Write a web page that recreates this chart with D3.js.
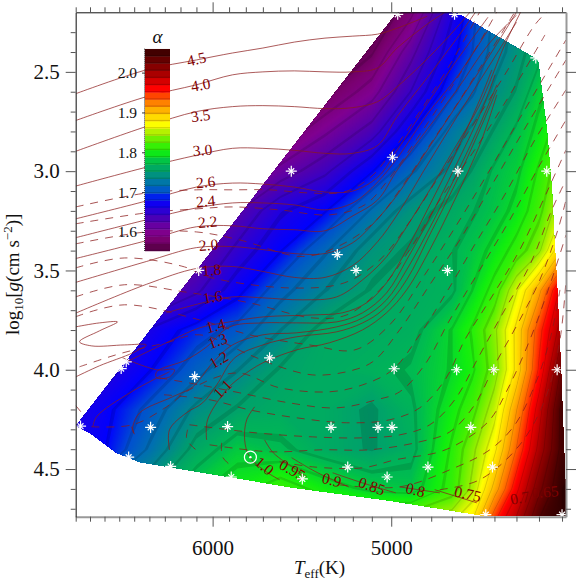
<!DOCTYPE html>
<html>
<head>
<meta charset="utf-8">
<script src="https://cdn.jsdelivr.net/npm/d3@7/dist/d3.min.js"></script>
<style>
  html, body { margin: 0; padding: 0; background: #fff; }
  text { font-family: "Liberation Serif", serif; fill: #111; }
</style>
</head>
<body>
<div id="chart"></div>
<script>
// Mixing length field
const fieldTeff = [7000, 6700, 6400, 6100, 5850, 5600, 5350, 5100, 4900, 4700, 4600, 4500, 4400, 4300, 4200, 4100];
const fieldLogg = [2.2, 2.4, 2.6, 2.8, 3.0, 3.2, 3.4, 3.6, 3.8, 4.0, 4.2, 4.4, 4.6, 4.8];
const fieldAlpha = [
  [1.55, 1.55, 1.55, 1.55, 1.55, 1.55, 1.55, 1.55, 1.585, 1.66, 1.695, 1.72, 1.74, 1.76, 1.78, 1.79],
  [1.55, 1.55, 1.55, 1.55, 1.55, 1.55, 1.55, 1.57, 1.62, 1.675, 1.70, 1.725, 1.745, 1.765, 1.78, 1.79],
  [1.56, 1.56, 1.56, 1.56, 1.56, 1.56, 1.57, 1.60, 1.645, 1.695, 1.715, 1.74, 1.755, 1.785, 1.80, 1.81],
  [1.56, 1.56, 1.56, 1.56, 1.56, 1.575, 1.605, 1.635, 1.68, 1.725, 1.74, 1.755, 1.775, 1.795, 1.82, 1.83],
  [1.57, 1.57, 1.57, 1.56, 1.59, 1.615, 1.64, 1.68, 1.715, 1.74, 1.755, 1.775, 1.785, 1.81, 1.84, 1.85],
  [1.57, 1.57, 1.57, 1.58, 1.625, 1.66, 1.68, 1.72, 1.745, 1.76, 1.77, 1.78, 1.795, 1.82, 1.86, 1.88],
  [1.58, 1.58, 1.585, 1.615, 1.65, 1.68, 1.715, 1.745, 1.755, 1.77, 1.78, 1.795, 1.815, 1.84, 1.90, 1.92],
  [1.59, 1.60, 1.61, 1.64, 1.675, 1.71, 1.735, 1.755, 1.762, 1.768, 1.79, 1.815, 1.86, 1.91, 1.98, 2.0],
  [1.63, 1.64, 1.665, 1.69, 1.705, 1.735, 1.76, 1.762, 1.765, 1.79, 1.81, 1.84, 1.885, 1.945, 2.0, 2.05],
  [1.64, 1.655, 1.68, 1.71, 1.735, 1.755, 1.762, 1.766, 1.774, 1.79, 1.805, 1.835, 1.885, 1.955, 2.03, 2.06],
  [1.655, 1.675, 1.705, 1.74, 1.755, 1.762, 1.762, 1.752, 1.768, 1.80, 1.82, 1.855, 1.915, 1.98, 2.05, 2.06],
  [1.66, 1.68, 1.72, 1.76, 1.782, 1.775, 1.762, 1.753, 1.765, 1.81, 1.84, 1.875, 1.935, 1.995, 2.05, 2.06],
  [1.69, 1.72, 1.75, 1.785, 1.80, 1.82, 1.80, 1.785, 1.78, 1.815, 1.85, 1.905, 1.965, 2.02, 2.06, 2.06],
  [1.72, 1.75, 1.78, 1.81, 1.83, 1.84, 1.84, 1.85, 1.86, 1.87, 1.89, 1.96, 2.00, 2.05, 2.06, 2.06]
];

// Outline of the coloured region
const hullTeff = [6897, 4967, 4686, 4305, 4266, 4244, 4235, 4222, 4205, 4187, 4183, 4540, 5008, 5547, 6464, 6618, 6800];
const hullLogg = [4.282, 2.198, 2.198, 2.44, 2.792, 3.094, 3.311, 3.572, 4.0, 4.554, 4.736, 4.736, 4.658, 4.59, 4.464, 4.418, 4.318];

// Simulation grid (white stars)
const starTeff = [6086, 4967, 4687, 4314, 4994, 4671, 4266, 5537, 5283, 5183, 4721, 6866, 6553, 6587, 6111, 5661, 6392, 5909, 6537, 6263, 5887, 4985, 4677, 4503, 4221, 5317, 5068, 4996, 4610, 5227, 4816, 4509, 5021, 5475, 4540, 4200];
const starLogg = [3.5, 2.21, 2.21, 2.43, 2.93, 3.0, 3.0, 3.0, 3.42, 3.5, 3.5, 4.284, 3.96, 3.994, 4.035, 3.94, 4.29, 4.286, 4.44, 4.487, 4.54, 3.995, 4.0, 4.0, 4.0, 4.29, 4.29, 4.29, 4.29, 4.49, 4.49, 4.49, 4.54, 4.55, 4.73, 4.73];
const sunTeff = 5773;
const sunLogg = 4.44;

// Solid tracks of the upper masses share these temperatures
const trackTeff = [6900, 6420, 6100, 5880, 5700, 5520, 5350, 5200, 5070, 4970, 4820, 4675, 4530, 4400];
const track45 = [2.61, 2.49, 2.44, 2.405, 2.38, 2.35, 2.33, 2.32, 2.31, 2.28, 2.22];
const track40 = [2.745, 2.625, 2.565, 2.515, 2.5, 2.495, 2.5, 2.5, 2.48, 2.38, 2.26, 2.16];
const track35 = [2.9, 2.775, 2.7, 2.675, 2.67, 2.675, 2.685, 2.68, 2.65, 2.575, 2.435, 2.275, 2.09];
const track30 = [3.075, 2.98, 2.92, 2.885, 2.885, 2.895, 2.91, 2.91, 2.87, 2.725, 2.53, 2.33, 2.11];
const track26 = [3.24, 3.15, 3.08, 3.06, 3.065, 3.08, 3.105, 3.10, 3.03, 2.895, 2.66, 2.44, 2.225];
const track24 = [3.335, 3.245, 3.185, 3.16, 3.16, 3.17, 3.195, 3.16, 3.055, 2.935, 2.715, 2.525, 2.29];
const track22 = [3.44, 3.35, 3.28, 3.275, 3.29, 3.295, 3.30, 3.225, 3.145, 2.995, 2.79, 2.59, 2.365, 2.215];
const track20 = [3.56, 3.455, 3.385, 3.38, 3.395, 3.415, 3.415, 3.36, 3.24, 3.12, 2.895, 2.665, 2.43, 2.2];
const track18 = [3.715, 3.57, 3.49, 3.48, 3.505, 3.535, 3.535, 3.475, 3.355, 3.22, 2.97, 2.725, 2.48, 2.25];
const columnTracks = [track45, track40, track35, track30, track26, track24, track22, track20, track18];

// Remaining solid tracks, [Teff list, logg list]
const freeTracks = [
  [[6290, 6062, 5880, 5700, 5474, 5286, 5148, 5024, 4922, 4807, 4686, 4568, 4453, 4381],
   [3.713, 3.663, 3.633, 3.638, 3.648, 3.633, 3.547, 3.431, 3.28, 3.094, 2.883, 2.666, 2.364, 2.198]],
  [[6900, 6734, 6612, 6734, 6873, 6788, 6565, 6420, 6510, 6734, 6900],
   [3.784, 3.764, 3.759, 3.804, 3.859, 3.88, 3.875, 3.875, 3.915, 3.98, 4.036]],
  [[6550, 6289, 6080, 5897, 5700, 5418, 5254, 5127, 5024, 4922, 4807, 4686, 4568, 4512],
   [3.96, 3.864, 3.789, 3.759, 3.734, 3.724, 3.713, 3.663, 3.562, 3.396, 3.17, 2.918, 2.641, 2.49]],
  [[6577, 6353, 6238, 6270, 6353, 6353, 6163, 6037, 5897, 5700, 5507, 5286, 5148, 5024, 4922, 4807, 4686, 4568, 4497],
   [3.94, 4.0, 4.0, 4.036, 4.04, 4.01, 3.95, 3.885, 3.784, 3.764, 3.764, 3.759, 3.713, 3.613, 3.447, 3.235, 2.983, 2.717, 2.515]],
  [[6780, 6755, 6518, 6270],
   [4.287, 4.237, 4.111, 4.01]],
  [[6505, 6510, 6464, 6250, 6123, 6000, 5880, 5700, 5507, 5286, 5148, 5024, 4922, 4807, 4686, 4568, 4489],
   [4.318, 4.287, 4.217, 4.136, 4.086, 3.965, 3.875, 3.824, 3.814, 3.784, 3.739, 3.648, 3.497, 3.285, 3.034, 2.767, 2.565]],
  [[6270, 6270, 6163, 6062, 5975, 5866, 5700, 5507, 5286, 5148, 5043, 4922, 4807, 4686, 4568, 4489],
   [4.403, 4.302, 4.217, 4.167, 4.076, 3.94, 3.875, 3.834, 3.809, 3.764, 3.698, 3.547, 3.32, 3.069, 2.792, 2.59]],
  [[6037, 6031, 5915, 5837, 5700, 5507, 5325, 5148, 5024, 4922, 4807, 4686, 4568, 4489],
   [4.353, 4.252, 4.101, 4.041, 3.965, 3.9, 3.864, 3.799, 3.713, 3.598, 3.396, 3.144, 2.868, 2.616]],
  [[5748, 5795, 5807, 5778, 5680, 5603], [4.187, 4.252, 4.353, 4.438, 4.514, 4.554]],
  [[5690, 5640, 5507, 5450], [4.353, 4.418, 4.504, 4.539]],
  [[5535, 5400, 5221], [4.443, 4.514, 4.59]],
  [[5308, 5148, 4977], [4.519, 4.57, 4.62]],
  [[4957, 4758], [4.59, 4.62]],
  [[4783, 4582], [4.604, 4.67]]
];

// Dashed tracks, [Teff list, logg list]
const dashedTracks = [
  [[6900, 6420, 6100, 5880, 5660, 5434, 5244, 5111, 5008, 4857, 4710, 4568],
   [3.18, 3.11, 3.094, 3.094, 3.094, 3.11, 3.104, 3.034, 2.918, 2.701, 2.465, 2.198]],
  [[6900, 6420, 6100, 5880, 5603, 5325, 5138, 5008, 4857, 4710, 4568, 4489],
   [3.265, 3.21, 3.19, 3.18, 3.195, 3.22, 3.17, 3.034, 2.817, 2.59, 2.349, 2.198]],
  [[6900, 6420, 6100, 5837, 5474, 5270, 5085, 4957, 4807, 4662, 4521, 4407],
   [3.366, 3.306, 3.306, 3.346, 3.43, 3.375, 3.255, 3.094, 2.868, 2.641, 2.4, 2.198]],
  [[6900, 6565, 6175, 6030, 5547, 5244, 5059, 4907, 4758, 4615, 4453, 4318, 4266],
   [3.487, 3.437, 3.482, 3.532, 3.588, 3.562, 3.447, 3.255, 3.019, 2.792, 2.515, 2.263, 2.198]],
  [[6900, 6565, 6175, 5778, 5418, 5233, 5059, 4907, 4758, 4592, 4430, 4274],
   [3.633, 3.572, 3.608, 3.663, 3.739, 3.724, 3.598, 3.396, 3.144, 2.893, 2.616, 2.314]],
  [[6900, 6565, 6080, 5778, 5434, 5190, 5008, 4832, 4662, 4521, 4363, 4183],
   [3.733, 3.673, 3.749, 3.824, 3.875, 3.9, 3.774, 3.522, 3.245, 2.993, 2.691, 2.339]],
  [[6873, 6577, 6289, 6080, 5778, 5603, 5418, 5233, 5096, 4957, 4807, 4662, 4498, 4340, 4183],
   [3.985, 3.915, 3.864, 3.824, 3.925, 3.985, 4.026, 4.01, 3.96, 3.799, 3.572, 3.346, 3.044, 2.742, 2.44]],
  [[6790, 6510, 6289, 6143, 5855, 5603, 5325, 5148, 4993, 4857, 4733, 4592, 4453, 4318, 4183],
   [4.287, 4.277, 4.187, 4.101, 4.016, 4.091, 4.111, 4.076, 4.0, 3.824, 3.623, 3.371, 3.119, 2.842, 2.59]],
  [[6334, 6080, 5837, 5547, 5286, 5075, 4957, 4832, 4710, 4568, 4430, 4296, 4183],
   [4.041, 4.076, 4.116, 4.167, 4.192, 4.151, 4.111, 3.975, 3.749, 3.497, 3.245, 2.968, 2.742]],
  [[6305, 6018, 5778, 5507, 5233, 5008, 4857, 4733, 4638, 4521, 4385, 4261, 4183],
   [4.126, 4.151, 4.202, 4.242, 4.267, 4.252, 4.192, 4.051, 3.849, 3.648, 3.396, 3.094, 2.893]],
  [[6143, 5737, 5418, 5148, 4957, 4807, 4686, 4568, 4453, 4340, 4244, 4183],
   [4.277, 4.318, 4.338, 4.343, 4.328, 4.277, 4.151, 3.925, 3.698, 3.472, 3.195, 3.044]],
  [[6018, 5660, 5362, 5111, 4857, 4710, 4592, 4498, 4385, 4296, 4218, 4183],
   [4.378, 4.413, 4.403, 4.403, 4.363, 4.313, 4.177, 3.975, 3.749, 3.547, 3.296, 3.145]],
  [[5603, 5418, 5148, 4977, 4758, 4638, 4521, 4430, 4340, 4252, 4183],
   [4.463, 4.489, 4.494, 4.453, 4.413, 4.353, 4.252, 4.076, 3.849, 3.572, 3.321]],
  [[5270, 4957, 4710, 4521, 4407, 4318, 4252, 4209],
   [4.58, 4.59, 4.504, 4.403, 4.277, 4.076, 3.849, 3.598]],
  [[4758, 4568, 4385, 4274, 4209, 4183],
   [4.604, 4.554, 4.378, 4.151, 3.849, 3.547]],
  [[6155, 6160, 6080], [4.302, 4.353, 4.418]],
  [[5945, 5940, 5880], [4.368, 4.438, 4.489]],
  [[6518, 6484], [4.287, 4.353]],
  [[6900, 6860], [4.18, 4.215]]
];

// Mass labels on the tracks
const massNames = ["4.5", "4.0", "3.5", "3.0", "2.6", "2.4", "2.2", "2.0", "1.8", "1.6", "1.4", "1.3", "1.2", "1.1", "1.0", "0.95", "0.9", "0.85", "0.8", "0.75", "0.7", "0.65"];
const massTeff = [6100, 6074, 6074, 6062, 6043, 6043, 6031, 6025, 6006, 6000, 5982, 5970, 5963, 5939, 5690, 5530, 5313, 5100, 4877, 4624, 4385, 4274];
const massLogg = [2.435, 2.565, 2.72, 2.893, 3.054, 3.15, 3.255, 3.371, 3.497, 3.633, 3.779, 3.854, 3.95, 4.096, 4.484, 4.504, 4.554, 4.585, 4.604, 4.625, 4.645, 4.615];
const massAngle = [-13, -10, -8, -5, -5, -5, -5, -5, -5, -10, -15, -20, -30, -45, 40, 30, 15, 20, 15, 12, -10, -5];

const colorbarTicks = [1.6, 1.7, 1.8, 1.9, 2.0];

const stopAlpha = [1.5525, 1.58, 1.60, 1.63, 1.66, 1.68, 1.70, 1.72, 1.75, 1.775, 1.80, 1.825, 1.85, 1.87, 1.90, 1.93, 1.96, 2.0, 2.06];
const stopColor = ["#50003c", "#7a0070", "#800090", "#5000b0", "#2000e0", "#0000ff", "#0050d0", "#0070b0", "#009c70", "#00bc50", "#10ee10", "#50f000", "#b0f000", "#ffff00", "#ffc000", "#ff7000", "#ff0000", "#a00000", "#300000"];

// Scales
const margin = {top: 12.3, right: 15, bottom: 64.3, left: 75.7},
      width = 581 - margin.left - margin.right,
      height = 581 - margin.top - margin.bottom;

const x = d3.scaleLog().domain([6900, 4183]).range([0, width]);
const y = d3.scaleLinear().domain([2.2, 4.74]).range([0, height]);

const alphaColor = d3.scaleLinear().domain(stopAlpha).range(stopColor).clamp(true);

// dark stripe sits at the bottom of every colour step
const step = 0.0181;
const stripe = 0.0027;
function fieldColor(a) {
  const k = (a - 1.5525) / step;
  const frac = k - Math.floor(k);
  const c = d3.rgb(alphaColor(a));
  return frac * step < stripe ? c.darker(0.36).formatRgb() : c.formatRgb();
}

const svg = d3.select("#chart")
  .append("svg")
  .attr("width", 581)
  .attr("height", 581)
  .style("display", "block");

const defs = svg.append("defs");
defs.append("clipPath").attr("id", "hull").append("polygon")
  .attr("points", hullTeff.map((t, i) => [x(t), y(hullLogg[i])].join(",")).join(" "));
defs.append("clipPath").attr("id", "frame").append("rect")
  .attr("width", width).attr("height", height);

const plot = svg.append("g")
  .attr("transform", `translate(${margin.left},${margin.top})`);

// Colour field
const colToTeff = d3.scaleLinear().domain(d3.range(fieldTeff.length)).range(fieldTeff);
const rowToLogg = d3.scaleLinear().domain(d3.range(fieldLogg.length)).range(fieldLogg);
const thresholds = d3.range(1.5, 2.07, 0.0009);

const contours = d3.contours()
  .size([fieldTeff.length, fieldLogg.length])
  .thresholds(thresholds)(fieldAlpha.flat());

const fieldPath = d3.geoPath(d3.geoTransform({
  point(cx, cy) {
    const t = colToTeff(Math.max(0, Math.min(fieldTeff.length - 1, cx - 0.5)));
    const g = rowToLogg(Math.max(0, Math.min(fieldLogg.length - 1, cy - 0.5)));
    this.stream.point(x(t), y(g));
  }
}));

plot.append("g")
  .attr("clip-path", "url(#hull)")
  .selectAll("path")
  .data(contours)
  .enter()
  .append("path")
  .attr("d", fieldPath)
  .attr("fill", d => fieldColor(d.value));

// Tracks
const trackLine = d3.line().curve(d3.curveCatmullRom.alpha(0.5));
const toPoints = (ts, gs) => gs.map((g, i) => [x(ts[i]), y(g)]);

const tracks = plot.append("g")
  .attr("clip-path", "url(#frame)")
  .attr("fill", "none")
  .attr("stroke", "#8b1a1a");

tracks.selectAll(".dashed")
  .data(dashedTracks)
  .enter().append("path")
  .attr("class", "dashed")
  .attr("d", d => trackLine(toPoints(d[0], d[1])))
  .attr("stroke-width", 1)
  .attr("stroke-opacity", 0.75)
  .attr("stroke-dasharray", "8 7");

tracks.selectAll(".solid")
  .data(columnTracks.map(g => [trackTeff, g]).concat(freeTracks))
  .enter().append("path")
  .attr("class", "solid")
  .attr("d", d => trackLine(toPoints(d[0], d[1])))
  .attr("stroke-width", 0.9)
  .attr("stroke-opacity", 0.8);

// Mass labels
plot.append("g").selectAll("text")
  .data(massNames)
  .enter().append("text")
  .attr("transform", (d, i) => `translate(${x(massTeff[i])},${y(massLogg[i])}) rotate(${massAngle[i]})`)
  .attr("text-anchor", "middle")
  .attr("dy", "0.35em")
  .style("font-size", "15.5px")
  .style("fill", "#800000")
  .text(d => d);

// Stars
const plusPath = d3.symbol(d3.symbolPlus, 42)();
const timesPath = d3.symbol(d3.symbolTimes, 24)();
const stars = plot.append("g").selectAll("g")
  .data(starTeff)
  .enter().append("g")
  .attr("transform", (d, i) => `translate(${x(d)},${y(starLogg[i])})`)
  .attr("fill", "none")
  .attr("stroke", "#fff")
  .attr("stroke-width", 1.2);
stars.append("path").attr("d", plusPath);
stars.append("path").attr("d", timesPath);

// The Sun
const sun = plot.append("g")
  .attr("transform", `translate(${x(sunTeff)},${y(sunLogg)})`);
sun.append("circle").attr("r", 6).attr("fill", "none").attr("stroke", "#fff").attr("stroke-width", 1.2);
sun.append("circle").attr("r", 1.2).attr("fill", "#fff");

// Axes
const teffTicks = d3.range(4200, 7000, 100);
const loggTicks = d3.range(2.3, 4.74, 0.1).map(v => +v.toFixed(1));
const isMajorT = t => t % 1000 === 0;
const isMajorG = g => Math.abs(g * 2 - Math.round(g * 2)) < 1e-6;

function styleAxis(g, color, w) {
  g.select(".domain").attr("stroke", color).attr("stroke-width", w);
  g.selectAll(".tick line")
    .attr("stroke", "#555")
    .attr("stroke-width", 1);
  return g;
}

const bottomAxis = plot.append("g")
  .attr("transform", `translate(0,${height})`)
  .call(d3.axisBottom(x).tickValues(teffTicks).tickSize(5).tickSizeOuter(0)
    .tickFormat(t => isMajorT(t) ? d3.format("d")(t) : ""));
styleAxis(bottomAxis, "#999", 2);
bottomAxis.selectAll(".tick line").filter(isMajorT).attr("y2", 10);
bottomAxis.selectAll(".tick text")
  .attr("y", 23)
  .attr("dy", "0.71em")
  .style("font-size", "21px");

const topAxis = plot.append("g")
  .call(d3.axisTop(x).tickValues(teffTicks).tickSize(5).tickSizeOuter(0).tickFormat(""));
styleAxis(topAxis, "#111", 1);
topAxis.selectAll(".tick line").filter(isMajorT).attr("y2", -10);

const leftAxis = plot.append("g")
  .call(d3.axisLeft(y).tickValues(loggTicks).tickSize(5).tickSizeOuter(0)
    .tickFormat(g => isMajorG(g) ? d3.format(".1f")(g) : ""));
styleAxis(leftAxis, "#333", 1.2);
leftAxis.selectAll(".tick line").filter(isMajorG).attr("x2", -10);
leftAxis.selectAll(".tick text")
  .attr("x", -16)
  .style("font-size", "21px");

const rightAxis = plot.append("g")
  .attr("transform", `translate(${width},0)`)
  .call(d3.axisRight(y).tickValues(loggTicks).tickSize(5).tickSizeOuter(0).tickFormat(""));
styleAxis(rightAxis, "#999", 2);
rightAxis.selectAll(".tick line").filter(isMajorG).attr("x2", 10);

// Colour bar
const barX = 145 - margin.left,
      barW = 25;
const barY = d3.scaleLinear().domain([1.6, 2.0]).range([232 - margin.top, 72.6 - margin.top]);
const barLevels = d3.range(1.5525, 2.05, step);

const bar = plot.append("g");
bar.selectAll("rect.band")
  .data(barLevels)
  .enter().append("rect")
  .attr("class", "band")
  .attr("x", barX)
  .attr("width", barW)
  .attr("y", d => barY(d + step))
  .attr("height", d => barY(d) - barY(d + step) + 0.3)
  .attr("fill", d => alphaColor(d + step / 2));
bar.selectAll("rect.stripe")
  .data(barLevels)
  .enter().append("rect")
  .attr("class", "stripe")
  .attr("x", barX)
  .attr("width", barW)
  .attr("y", d => barY(d) - 1.2)
  .attr("height", 1.2)
  .attr("fill", d => d3.rgb(alphaColor(d + step / 2)).darker(0.5).formatRgb());

const barAxis = bar.append("g")
  .attr("transform", `translate(${barX},0)`)
  .call(d3.axisLeft(barY).tickValues(d3.range(1.555, 2.06, 0.005)).tickSize(1).tickSizeOuter(0)
    .tickFormat(""));
barAxis.select(".domain").remove();
barAxis.selectAll(".tick line").attr("stroke", "#333");

bar.append("g")
  .attr("transform", `translate(${barX},0)`)
  .call(d3.axisLeft(barY).tickValues(colorbarTicks).tickSize(3).tickPadding(5).tickFormat(d3.format(".1f")))
  .call(g => g.select(".domain").remove())
  .call(g => g.selectAll(".tick line").attr("stroke", "#333"))
  .call(g => g.selectAll(".tick text").style("font-size", "15.5px"));

bar.append("text")
  .attr("x", barX + barW / 2)
  .attr("y", barY(2.06) - 6)
  .attr("text-anchor", "middle")
  .style("font-size", "19px")
  .style("font-style", "italic")
  .text("α");

// Axis titles
const xTitle = svg.append("text")
  .attr("x", 294)
  .attr("y", 574)
  .style("font-size", "19px");
xTitle.append("tspan").style("font-style", "italic").text("T");
xTitle.append("tspan").attr("dy", 4).style("font-size", "13px").text("eff");
xTitle.append("tspan").attr("dy", -4).text("(K)");

const yTitle = svg.append("text")
  .attr("transform", "translate(19,335) rotate(-90)")
  .style("font-size", "19px");
yTitle.append("tspan").text("log");
yTitle.append("tspan").attr("dy", 4).style("font-size", "13px").text("10");
yTitle.append("tspan").attr("dy", -4).text("[");
yTitle.append("tspan").style("font-style", "italic").text("g");
yTitle.append("tspan").text("(cm s");
yTitle.append("tspan").attr("dy", -7).style("font-size", "13px").text("−2");
yTitle.append("tspan").attr("dy", 7).text(")]");
</script>
</body>
</html>
